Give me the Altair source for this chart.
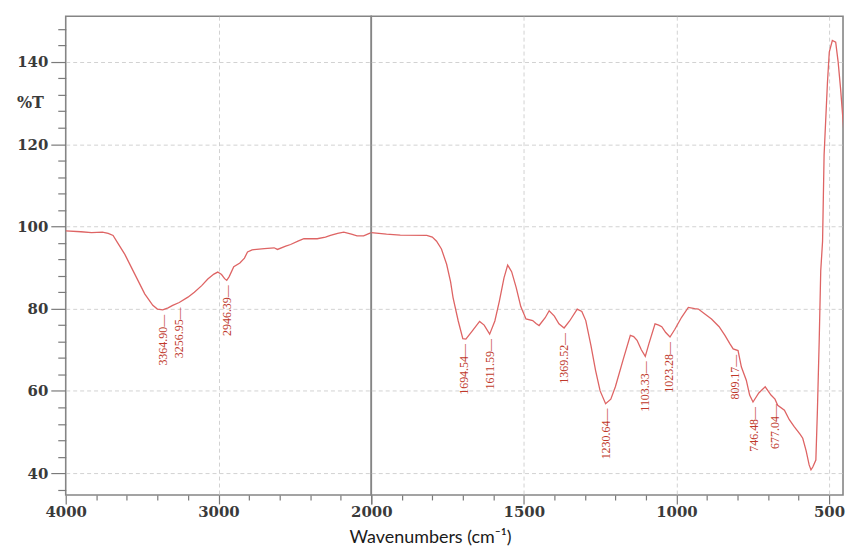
import altair as alt
import pandas as pd

# ---- spectrum (wavenumber cm-1, %T) ----
wavenumber = [4000, 3900, 3831, 3760, 3722, 3690, 3660, 3613, 3548, 3483, 3430, 3400,
              3365, 3330, 3300, 3257, 3200, 3158, 3110, 3070, 3030, 3005, 2980, 2960,
              2946, 2930, 2900, 2860, 2830, 2810, 2780, 2700, 2636, 2614, 2560, 2528,
              2480, 2441, 2354, 2300, 2267, 2220, 2180, 2130, 2093, 2050, 2020, 2000,
              1950, 1905, 1818, 1800, 1786, 1770, 1753, 1740, 1732, 1715, 1700, 1690,
              1670, 1645, 1630, 1612, 1595, 1580, 1565, 1553, 1540, 1525, 1510, 1493,
              1471, 1460, 1450, 1430, 1417, 1400, 1385, 1368, 1350, 1325, 1310, 1297,
              1280, 1265, 1250, 1232, 1215, 1200, 1175, 1151, 1140, 1129, 1115, 1102,
              1090, 1070, 1058, 1048, 1035, 1021, 1005, 983, 961, 940, 928, 910,
              885, 860, 841, 825, 814, 798, 787, 771, 760, 749, 730, 709,
              690, 677, 668, 646, 630, 614, 595, 586, 575, 565, 559, 553,
              543, 538, 532, 527, 521, 516, 505, 499, 489, 478, 470, 462,
              446, 440, 435, 430]
transmittance = [98.9, 98.7, 98.5, 98.6, 98.3, 97.8, 96.0, 93.2, 88.4, 83.6, 80.8, 79.9,
                 79.7, 80.2, 80.8, 81.5, 82.8, 84.0, 85.6, 87.2, 88.4, 88.9, 88.3, 87.3,
                 86.9, 87.8, 90.2, 91.1, 92.3, 93.8, 94.3, 94.6, 94.8, 94.4, 95.2, 95.6,
                 96.4, 97.0, 97.0, 97.4, 97.8, 98.3, 98.6, 98.1, 97.7, 97.7, 98.2, 98.5,
                 98.1, 97.9, 97.8, 97.4, 96.4, 94.5, 90.8, 86.5, 82.7, 77.0, 72.7, 72.6,
                 74.5, 76.9, 76.0, 73.8, 77.0, 81.9, 87.5, 90.6, 89.0, 85.1, 80.5, 77.5,
                 77.1, 76.4, 75.9, 77.8, 79.5, 78.2, 76.3, 75.3, 77.0, 79.9, 79.3, 77.1,
                 71.0, 65.0, 60.0, 56.9, 58.0, 61.0, 67.5, 73.5, 73.2, 72.3, 70.0, 68.4,
                 71.5, 76.3, 76.0, 75.6, 74.2, 73.1, 75.0, 77.9, 80.3, 80.0, 79.9, 78.9,
                 77.5, 75.6, 73.5, 71.5, 70.2, 69.8, 65.8, 62.6, 59.0, 57.3, 59.5, 61.0,
                 59.0, 58.0, 56.5, 55.3, 53.0, 51.3, 49.5, 48.5, 45.5, 42.0, 40.8, 41.5,
                 43.2, 55.0, 72.3, 89.2, 96.4, 117.4, 135.0, 142.4, 145.2, 144.8, 140.0, 133.5,
                 118.2, 120.5, 121.9, 118.5]

# ---- peak annotations ----
peak_wn = [3364.90, 3256.95, 2946.39, 1694.54, 1611.59, 1369.52, 1230.64, 1103.33,
           1023.28, 809.17, 746.48, 677.04]
peak_t = [79.7, 81.5, 86.9, 72.6, 73.8, 75.3, 56.9, 68.4, 73.1, 70.0, 57.3, 58.0]
peak_text = ["3364.90", "3256.95", "2946.39", "1694.54", "1611.59", "1369.52", "1230.64",
             "1103.33", "1023.28", "809.17", "746.48", "677.04"]

# ---- axes ----
y_domain = [34.7, 151.1]
y_ticks = list(range(36, 152, 4))
left_x_ticks = list(range(4000, 1999, -200))
right_x_ticks = list(range(2000, 499, -100))
left_x_domain = [4000, 2000]
right_x_domain = [2000, 454]

df = pd.DataFrame({"wn": wavenumber, "T": transmittance})
pk = pd.DataFrame({"wn": peak_wn, "T": peak_t, "lbl": [s + "\u2014" for s in peak_text]})

LINE = "#de6464"
LABEL = "#c0392b"
TICK_FONT = "DejaVu Serif"
H = 481
WL = 307
WR = 474

yscale = alt.Scale(domain=y_domain, nice=False, zero=False)

y_left = alt.Y("T:Q", scale=yscale, axis=alt.Axis(
    values=y_ticks, labelExpr="datum.value % 20 == 0 ? datum.label : ''",
    tickSize={"condition": {"test": "datum.value % 20 == 0", "value": 15}, "value": 8},
    gridOpacity={"condition": {"test": "datum.value % 20 == 0", "value": 1}, "value": 0},
    labelPadding=3, domain=False,
    title="%T", titleAngle=0, titleX=-36, titleY=87, titleAlign="center",
    titleBaseline="middle", titleFont=TICK_FONT, titleFontSize=16, titleFontWeight="bold",
    titleColor="#3a3a3a"))

y_right = alt.Y("T:Q", scale=yscale, axis=alt.Axis(
    values=y_ticks, labels=False, ticks=False, domain=False, title=None, minExtent=0,
    gridOpacity={"condition": {"test": "datum.value % 20 == 0", "value": 1}, "value": 0}))

x_left = alt.X("wn:Q", scale=alt.Scale(domain=left_x_domain, nice=False, zero=False),
               axis=alt.Axis(values=left_x_ticks, format="d", labelFlush=False, labelOverlap=False,
                             labelExpr="datum.value % 1000 == 0 ? datum.label : ''",
                             tickSize={"condition": {"test": "datum.value % 1000 == 0", "value": 9}, "value": 5},
                             gridOpacity={"condition": {"test": "datum.value == 3000", "value": 1}, "value": 0},
                             labelPadding=1, domain=False, title=None))

x_right = alt.X("wn:Q", scale=alt.Scale(domain=right_x_domain, nice=False, zero=False),
                axis=alt.Axis(values=right_x_ticks, format="d", labelFlush=False, labelOverlap=False,
                              labelExpr="(datum.value % 500 == 0 && datum.value < 2000) ? datum.label : ''",
                              tickSize={"condition": {"test": "datum.value % 500 == 0", "value": 9}, "value": 5},
                              gridOpacity={"condition": {"test": "datum.value % 500 == 0 && datum.value < 2000", "value": 1}, "value": 0},
                              labelPadding=1, domain=False, title=None))

text_mark = dict(angle=270, align="right", baseline="middle", dx=-5,
                 font="Liberation Serif", fontSize=12, color=LABEL)

left = alt.layer(
    alt.Chart(df[df.wn >= 2000]).mark_line(color=LINE, strokeWidth=1.3, clip=True).encode(x=x_left, y=y_left),
    alt.Chart(pk[pk.wn > 2000]).mark_text(**text_mark).encode(x=x_left, y=y_left, text="lbl:N"),
).properties(width=WL, height=H)

right = alt.layer(
    alt.Chart(df[df.wn <= 2000]).mark_line(color=LINE, strokeWidth=1.3, clip=True).encode(x=x_right, y=y_right),
    alt.Chart(pk[pk.wn < 2000]).mark_text(**text_mark).encode(x=x_right, y=y_right, text="lbl:N"),
).properties(width=WR, height=H)

chart = alt.hconcat(left, right, spacing=0, bounds="flush").properties(
    title=alt.TitleParams("Wavenumbers (cm\u207b\u00b9)", orient="bottom", anchor="middle",
                          font="Lato", fontSize=18, fontWeight="normal", color="#1a1a1a", offset=8),
    padding={"left": 7, "top": 6, "right": 0, "bottom": 0},
).configure_view(
    stroke="#858585", strokeWidth=1.6
).configure_axis(
    labelFont=TICK_FONT, labelFontSize=15, labelFontWeight="bold", labelColor="#3a3a3a",
    tickColor="#7a7a7a", tickWidth=1.2, gridColor="#d2d2d2", gridDash=[4, 3], gridWidth=1
)

chart.save("out.html", embed_options={"renderer": "svg", "actions": False})
